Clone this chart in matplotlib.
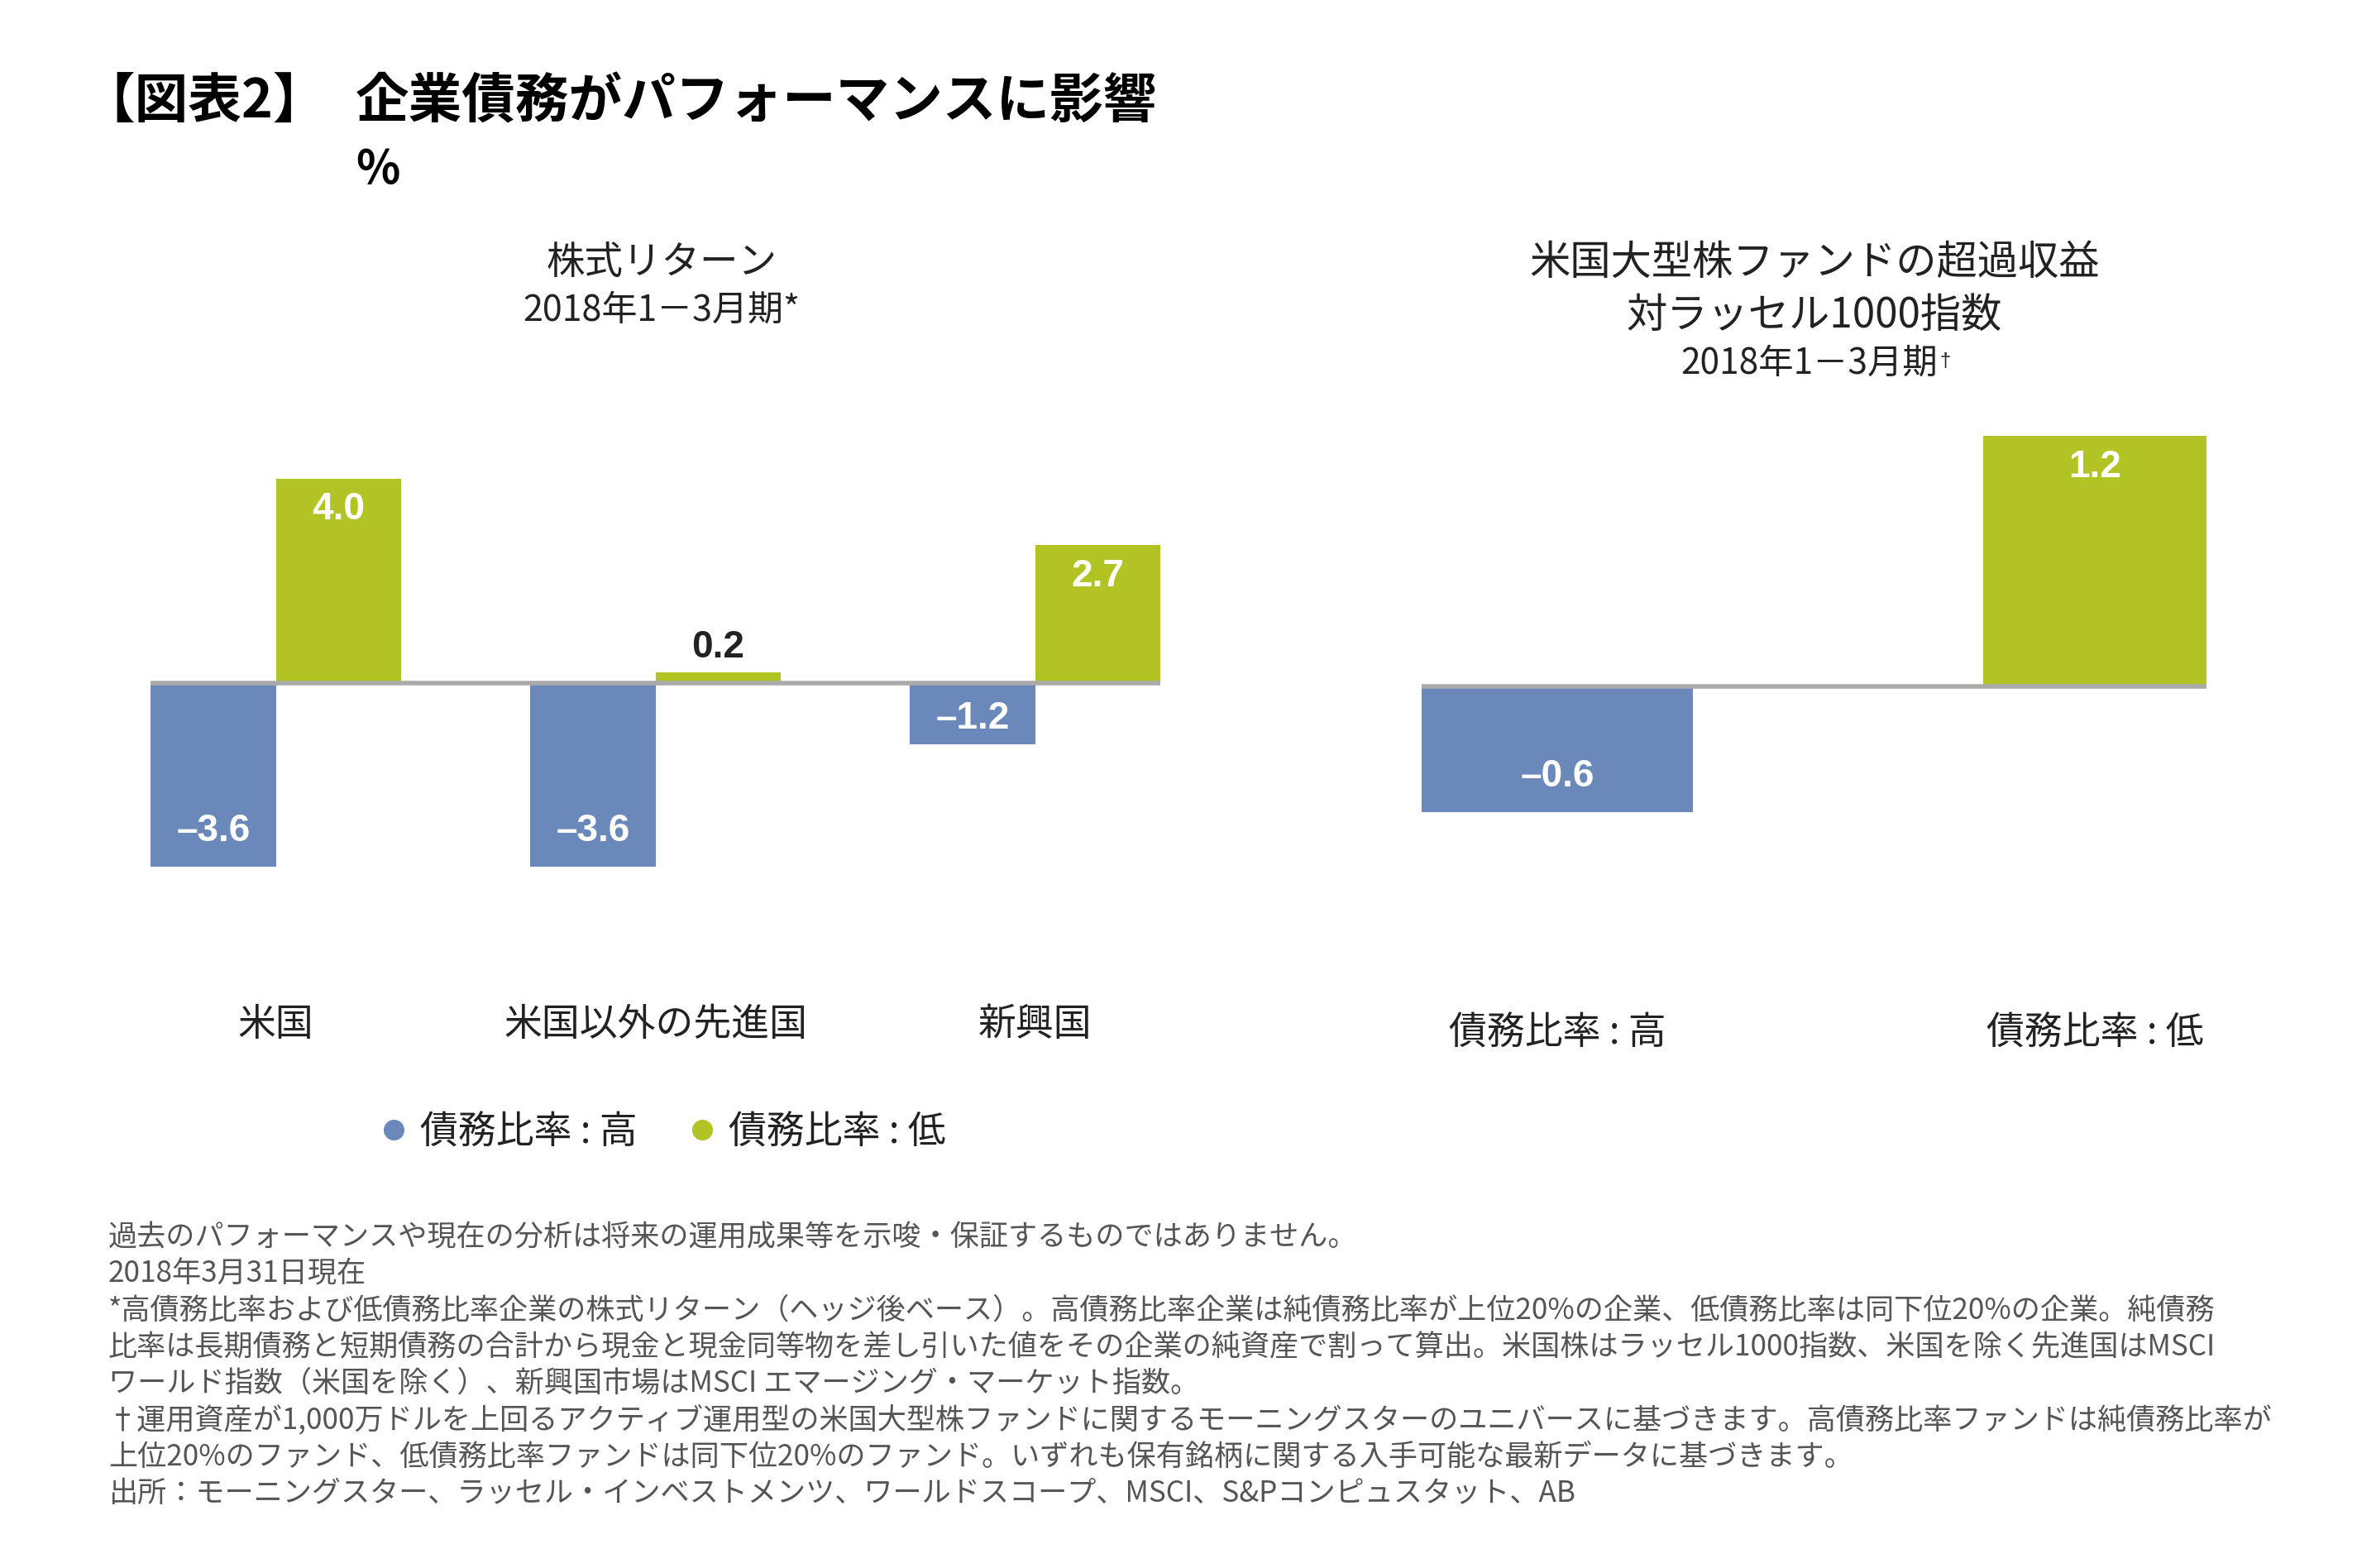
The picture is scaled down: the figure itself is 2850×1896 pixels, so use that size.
import matplotlib
matplotlib.use('Agg')
import matplotlib.pyplot as plt
from matplotlib.lines import Line2D

plt.rcParams['font.family'] = ['Noto Sans CJK JP', 'DejaVu Sans']

# Data
regions = ['米国', '米国以外の先進国', '新興国']
high_debt = [-3.6, -3.6, -1.2]
low_debt = [4.0, 0.2, 2.7]

fund_labels = ['債務比率 : 高', '債務比率 : 低']
fund_excess = [-0.6, 1.2]

series_names = ['債務比率 : 高', '債務比率 : 低']

footnotes = [
    '過去のパフォーマンスや現在の分析は将来の運用成果等を示唆・保証するものではありません。',
    '2018年3月31日現在',
    '*高債務比率および低債務比率企業の株式リターン（ヘッジ後ベース）。高債務比率企業は純債務比率が上位20%の企業、低債務比率は同下位20%の企業。純債務',
    '比率は長期債務と短期債務の合計から現金と現金同等物を差し引いた値をその企業の純資産で割って算出。米国株はラッセル1000指数、米国を除く先進国はMSCI',
    'ワールド指数（米国を除く）、新興国市場はMSCI エマージング・マーケット指数。',
    '†運用資産が1,000万ドルを上回るアクティブ運用型の米国大型株ファンドに関するモーニングスターのユニバースに基づきます。高債務比率ファンドは純債務比率が',
    '上位20%のファンド、低債務比率ファンドは同下位20%のファンド。いずれも保有銘柄に関する入手可能な最新データに基づきます。',
    '出所：モーニングスター、ラッセル・インベストメンツ、ワールドスコープ、MSCI、S&Pコンピュスタット、AB',
]

BLUE = '#6A89BA'
GREEN = '#B1C424'
ZERO = '#AAAAAA'
DARK = '#222222'
NUM_FONT = ['Liberation Sans', 'DejaVu Sans']


def fmt(v):
    s = f'{abs(v):.1f}'
    return ('\u2013' + s) if v < 0 else s


def label_bar(ax, x, v, small_limit):
    # value labels sit inside the bar end, or above it if the bar is tiny
    if abs(v) < small_limit:
        ax.annotate(fmt(v), (x, v), xytext=(0, 22), textcoords='offset points',
                    ha='center', va='center', fontsize=33, fontweight='bold',
                    color=DARK, family=NUM_FONT)
        return
    lo, hi = ax.get_ylim()
    frac = abs(v) / (hi - lo)
    if v > 0:
        off = -27
    else:
        off = 31 if frac > 0.2 else 22
    ax.annotate(fmt(v), (x, v), xytext=(0, off), textcoords='offset points',
                ha='center', va='center', fontsize=33, fontweight='bold',
                color='white', family=NUM_FONT)


fig = plt.figure(figsize=(28.5, 18.96), dpi=100)

# Title
fig.text(0.0345, 0.9346, '【図表2】', fontsize=46.5, fontweight='bold', va='center', color='black')
fig.text(0.151, 0.9346, '企業債務がパフォーマンスに影響', fontsize=46.5, fontweight='bold',
         va='center', color='black')
fig.text(0.151, 0.892, '%', fontsize=40, fontweight='bold', va='center', color='black')

# Left chart: equity returns
ax1 = fig.add_axes([0.0639, 0.418, 0.4284, 0.293])
ax1.set_ylim(-4.5, 4.5)
w = 0.33
xs = list(range(len(regions)))
ax1.bar([x - w / 2 for x in xs], high_debt, width=w, color=BLUE, zorder=2)
ax1.bar([x + w / 2 for x in xs], low_debt, width=w, color=GREEN, zorder=2)
ax1.axhline(0, color=ZERO, lw=4, zorder=3)
for x, v in zip(xs, high_debt):
    label_bar(ax1, x - w / 2, v, 0.5)
for x, v in zip(xs, low_debt):
    label_bar(ax1, x + w / 2, v, 0.5)
ax1.set_xlim(-w, len(regions) - 1 + w)
ax1.set_xticks(xs)
ax1.set_xticklabels(regions, fontsize=33, color=DARK)
ax1.tick_params(axis='x', length=0, pad=80)
ax1.set_yticks([])
for s in ax1.spines.values():
    s.set_visible(False)

fig.text(0.2807, 0.8323, '株式リターン', fontsize=33.5, ha='center', va='center', color=DARK)
fig.text(0.2807, 0.8017, '2018年1－3月期*', fontsize=31, ha='center', va='center', color=DARK)

# Right chart: fund excess return
ax2 = fig.add_axes([0.603, 0.402, 0.333, 0.340])
ax2.set_ylim(-1.2, 1.35)
fx = [0, 1]
widths = [0.506, 0.414]
ax2.bar(fx, fund_excess, width=widths, color=[BLUE, GREEN], zorder=2)
ax2.axhline(0, color=ZERO, lw=4, zorder=3)
for x, v in zip(fx, fund_excess):
    label_bar(ax2, x, v, 0.1)
ax2.set_xlim(-widths[0] / 2, 1 + widths[1] / 2)
ax2.set_xticks(fx)
ax2.set_xticklabels(fund_labels, fontsize=33, color=DARK)
ax2.tick_params(axis='x', length=0, pad=66)
ax2.set_yticks([])
for s in ax2.spines.values():
    s.set_visible(False)

fig.text(0.7698, 0.8323, '米国大型株ファンドの超過収益', fontsize=35.5, ha='center', va='center', color=DARK)
fig.text(0.7698, 0.7985, '対ラッセル1000指数', fontsize=35.5, ha='center', va='center', color=DARK)
sub = fig.text(0.7675, 0.7679, '2018年1－3月期', fontsize=30.5, ha='center', va='center', color=DARK)

# small superscript dagger right after the subtitle
fig.canvas.draw()
bb = sub.get_window_extent()
fig.text(bb.x1 / fig.bbox.width + 0.001, bb.y1 / fig.bbox.height - 0.004, '\u2020',
         fontsize=17, ha='left', va='top', color=DARK, family=NUM_FONT)

# Legend
handles = [Line2D([], [], marker='o', ls='none', color=BLUE, markersize=17),
           Line2D([], [], marker='o', ls='none', color=GREEN, markersize=17)]
fig.legend(handles, series_names, loc='center', bbox_to_anchor=(0.281, 0.278), ncol=2,
           frameon=False, fontsize=33, handletextpad=0.3, columnspacing=1.3,
           handlelength=0.8, labelcolor=DARK)

# Footnotes
y0 = 1 - 1496 / 1896
for i, line in enumerate(footnotes):
    fig.text(0.046, y0 - i * 0.02335, line, fontsize=25.3, color='#555555', va='center')

fig.savefig('out.png', dpi=100, facecolor='white')
